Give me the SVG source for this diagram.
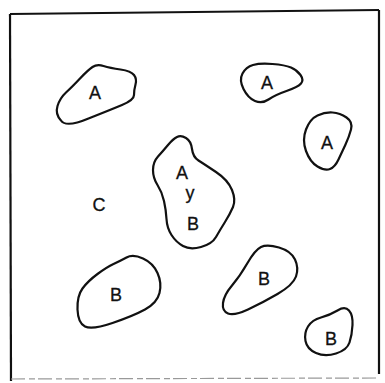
<svg xmlns="http://www.w3.org/2000/svg" width="385" height="383" viewBox="0 0 385 383">
<style>
.blob{fill:none;stroke:#111;stroke-width:2.2;stroke-linejoin:round}
.lbl{font-family:"Liberation Sans",Arial,sans-serif;font-size:18px;fill:#111;text-anchor:middle;stroke:#111;stroke-width:0.3}
.frame{stroke:#111;stroke-width:2.2;fill:none}
</style>
<rect width="385" height="383" fill="#fff"/>
<g id="frame">
<path class="frame" d="M10,14 L379,10"/>
<path class="frame" d="M10,14 L11,381"/>
<path class="frame" d="M379,10 L379,374" stroke-width="1.6"/>
<path d="M11,379 L379,378" stroke="#999" stroke-width="1.2" stroke-dasharray="14 4 6 3" fill="none"/>
</g>
<g id="regionC"><text class="lbl" x="99" y="211">C</text></g>
<g id="a1">
<path class="blob" d="M80,78.5 Q88,70 92.5,67 Q97,64 103.5,66 Q110,68 120.5,69.5 Q131,71 134,75 Q137,79 135.5,84.5 Q134,90 134,95 Q134,100 122,105 Q110,110 88.5,118.5 Q66,128 61,120.5 Q55,114 57.5,106 Q60,98 66,92.5 Q72,87 80,78.5 Z"/>
<text class="lbl" x="95" y="99">A</text>
</g>
<g id="a2">
<path class="blob" d="M243.5,89 Q239,80 242.5,73.5 Q246,67 253,65 Q260,63 272.5,64 Q285,65 291,67.5 Q297,70 300.5,75 Q304,80 301,83.5 Q298,87 286.5,91 Q275,95 268.5,99.5 Q262,104 255,101 Q248,98 243.5,89 Z"/>
<text class="lbl" x="267" y="89">A</text>
</g>
<g id="a3">
<path class="blob" d="M306,129.5 Q310,119 317.5,115.5 Q325,112 332.5,112.5 Q340,113 346.5,117.5 Q353,122 351,129.5 Q349,137 345.5,144.5 Q342,152 338.5,159.5 Q335,167 330,169 Q325,171 317.5,166.5 Q310,162 306,151 Q302,140 306,129.5 Z"/>
<text class="lbl" x="327" y="149">A</text>
</g>
<g id="ayb">
<path class="blob" d="M168,145 Q173,139 177,137 Q181,135 186,138 Q191,141 192,149 Q193,157 198.5,160.5 Q204,164 216,172 Q228,180 232,190 Q236,200 233,207 Q230,214 225,222 Q220,230 216,237 Q212,244 201,247 Q190,250 183,246 Q176,242 171.5,235 Q167,228 166.5,219 Q166,210 164,201 Q162,192 157.5,185 Q153,178 153,170 Q153,162 158,156.5 Q163,151 168,145 Z"/>
<text class="lbl" x="182" y="179">A</text>
<text class="lbl" x="190" y="199">y</text>
<text class="lbl" x="193" y="230">B</text>
</g>
<g id="b1">
<path class="blob" d="M113.5,264 Q120,261 126.5,257.5 Q133,254 143,258.5 Q153,263 157.5,273 Q162,283 159.5,293 Q157,303 145,309.5 Q133,316 112.5,323 Q92,330 85,326.5 Q78,323 77.5,309.5 Q77,296 82.5,288.5 Q88,281 97.5,274 Q107,267 113.5,264 Z"/>
<text class="lbl" x="116" y="301">B</text>
</g>
<g id="b2">
<path class="blob" d="M247.5,263 Q255,250 261,247 Q267,244 279,247.5 Q291,251 295,259.5 Q299,268 296,276.5 Q293,285 277.5,294 Q262,303 248,309.5 Q234,316 228,313.5 Q222,311 223,303 Q224,295 232,285.5 Q240,276 247.5,263 Z"/>
<text class="lbl" x="264" y="285">B</text>
</g>
<g id="b3">
<path class="blob" d="M321,317.5 Q330,315 337.5,310.5 Q345,306 349,310.5 Q353,315 352.5,325 Q352,335 349.5,342.5 Q347,350 336,353.5 Q325,357 316,353 Q307,349 305.5,341 Q304,333 308,326.5 Q312,320 321,317.5 Z"/>
<text class="lbl" x="331" y="345">B</text>
</g>
</svg>
